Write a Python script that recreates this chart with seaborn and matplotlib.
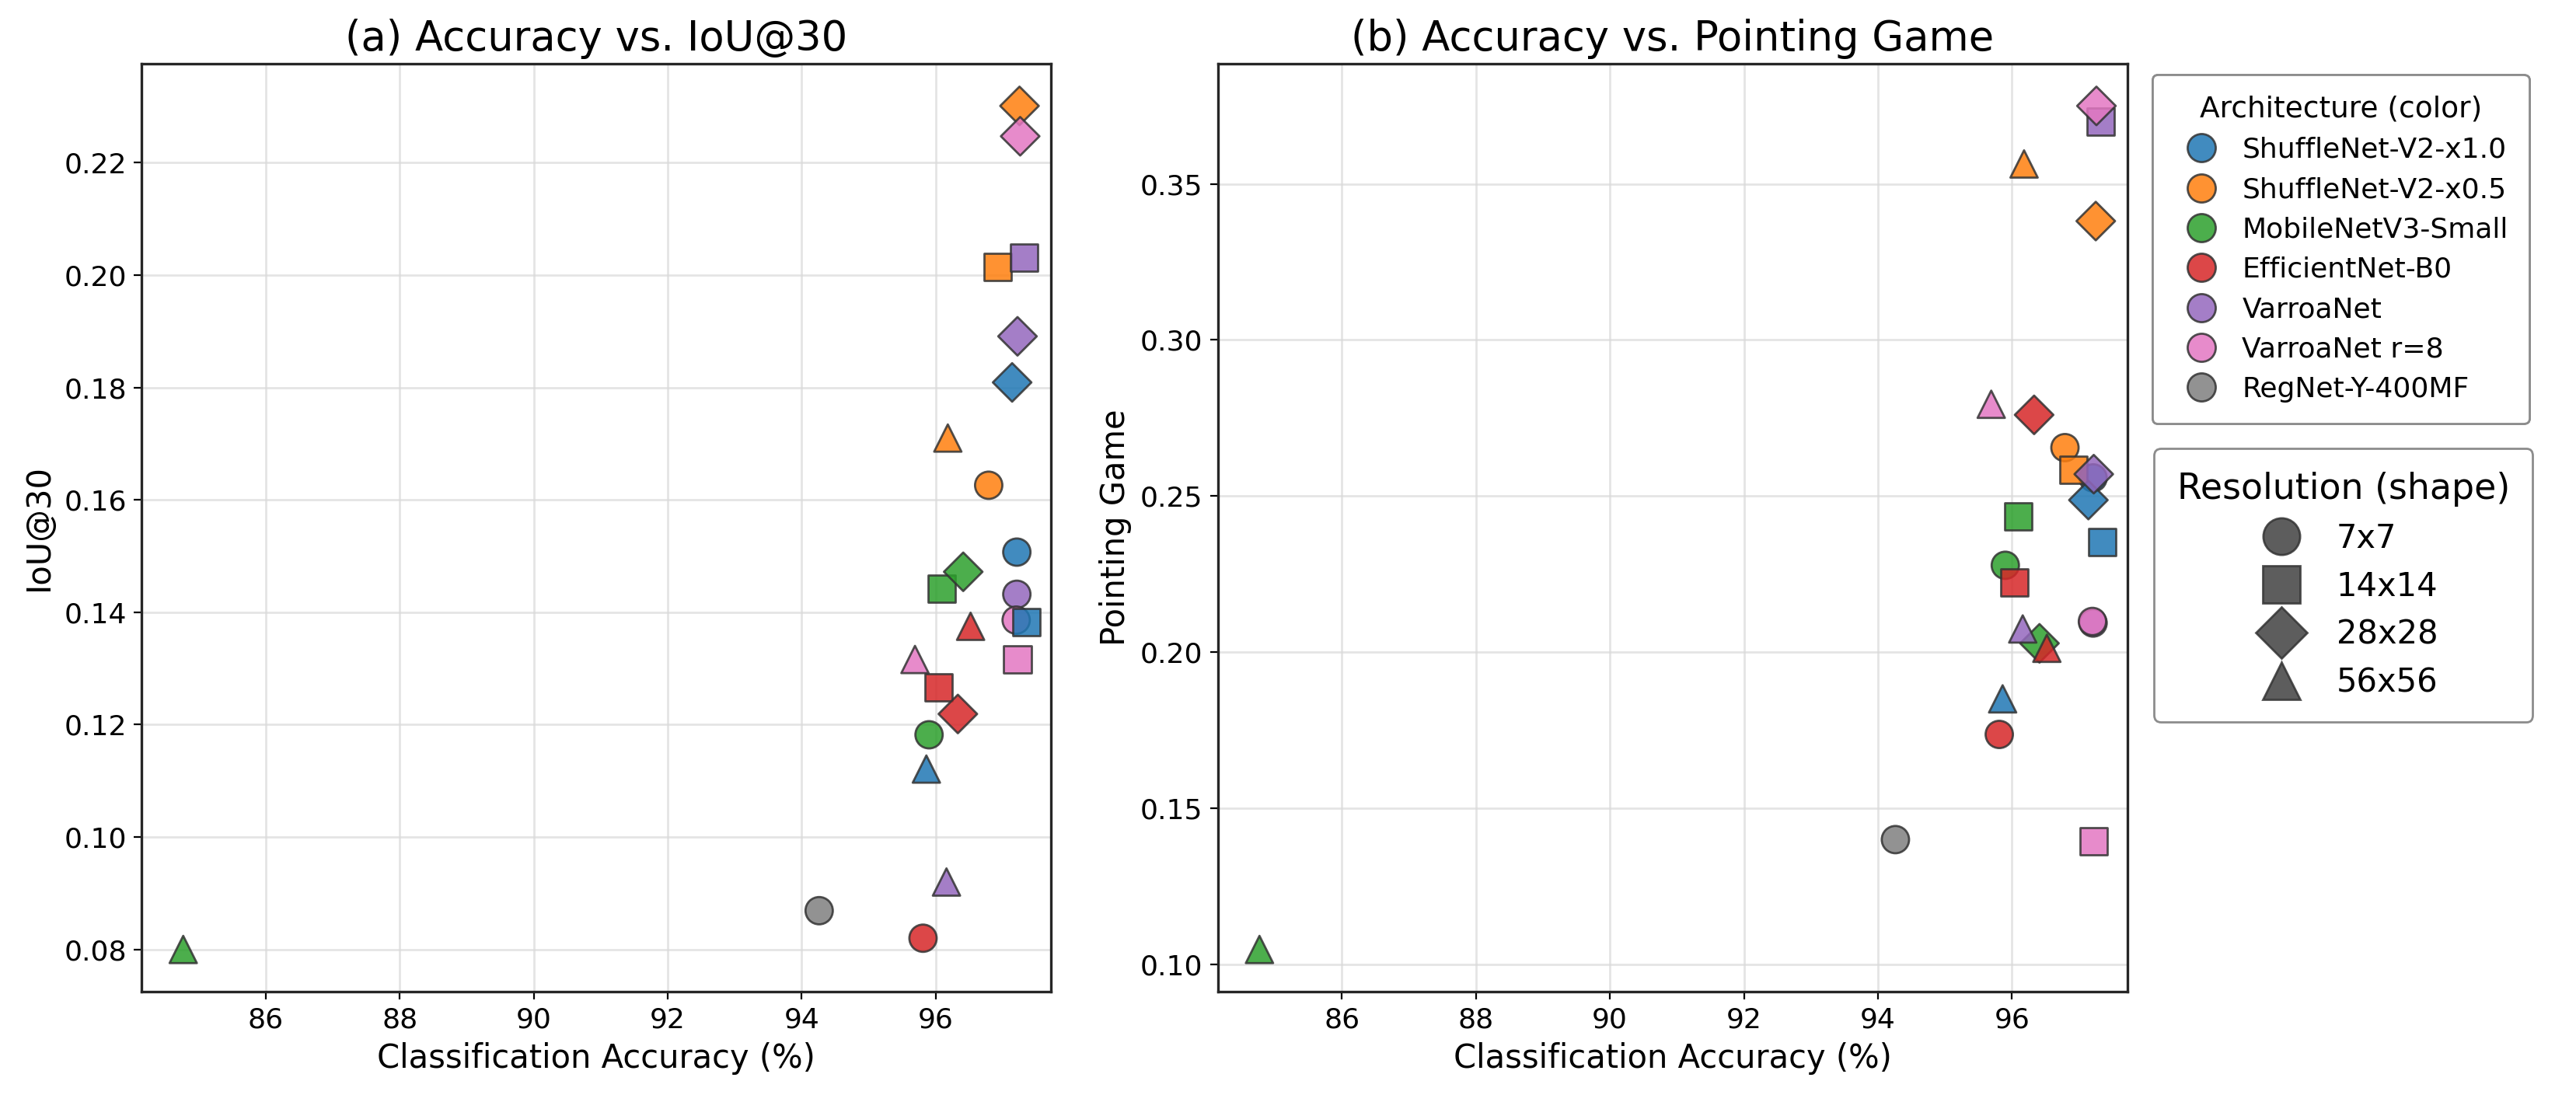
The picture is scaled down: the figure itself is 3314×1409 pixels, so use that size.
import numpy as np
import pandas as pd
import matplotlib
matplotlib.use("Agg")
import matplotlib.pyplot as plt
import seaborn as sns
from matplotlib.lines import Line2D

# --- data ---
archs = ['ShuffleNet-V2-x1.0', 'ShuffleNet-V2-x0.5', 'MobileNetV3-Small',
         'EfficientNet-B0', 'VarroaNet', 'VarroaNet r=8', 'RegNet-Y-400MF']
arch_colors = ['#1f77b4', '#ff7f0e', '#2ca02c', '#d62728',
               '#9467bd', '#e377c2', '#7f7f7f']
resolutions = ['7x7', '14x14', '28x28', '56x56']
res_markers = ['o', 's', 'D', '^']

model = (archs[:7] + archs[:6] + archs[:6] + archs[:6])
resolution = (['7x7'] * 7 + ['14x14'] * 6 + ['28x28'] * 6 + ['56x56'] * 6)

accuracy = [97.21, 96.79, 95.90, 95.81, 97.21, 97.20, 94.26,
            97.35, 96.92, 96.09, 96.04, 97.32, 97.22,
            97.14, 97.25, 96.41, 96.33, 97.22, 97.26,
            95.86, 96.18, 84.77, 96.52, 96.16, 95.69]
iou30 = [0.1507, 0.1626, 0.1182, 0.0820, 0.1432, 0.1386, 0.0869,
         0.1383, 0.2015, 0.1442, 0.1266, 0.2031, 0.1316,
         0.1809, 0.2301, 0.1472, 0.1219, 0.1891, 0.2247,
         0.1121, 0.1710, 0.0800, 0.1375, 0.0920, 0.1316]
pointing = [0.2558, 0.2655, 0.2278, 0.1736, 0.2093, 0.2098, 0.1399,
            0.2353, 0.2584, 0.2434, 0.2223, 0.3700, 0.1394,
            0.2487, 0.3381, 0.2028, 0.2760, 0.2570, 0.3750,
            0.1850, 0.3564, 0.1047, 0.2012, 0.2074, 0.2794]

df = pd.DataFrame({'model': model, 'resolution': resolution,
                   'accuracy': accuracy, 'iou30': iou30, 'pointing': pointing})

# --- figure ---
fig = plt.figure(figsize=(16.57, 7.045), dpi=200)
ax1 = fig.add_axes([0.0550, 0.0944, 0.3530, 0.8474])
ax2 = fig.add_axes([0.4728, 0.0944, 0.3530, 0.8474])

panels = [(ax1, 'iou30', 'IoU@30', '(a) Accuracy vs. IoU@30'),
          (ax2, 'pointing', 'Pointing Game', '(b) Accuracy vs. Pointing Game')]

for ax, col, ylab, title in panels:
    sns.scatterplot(data=df, x='accuracy', y=col, hue='model', hue_order=archs,
                    palette=arch_colors, style='resolution', style_order=resolutions,
                    markers=res_markers, s=160, alpha=0.85, edgecolor='0.2',
                    linewidth=1.0, legend=False, ax=ax, zorder=3)
    ax.set_xlim(84.15, 97.72)
    ax.grid(True, color='0.85', alpha=0.7, linewidth=1.0)
    ax.set_axisbelow(True)
    ax.set_title(title, fontsize=19)
    ax.set_xlabel('Classification Accuracy (%)', fontsize=15)
    ax.set_ylabel(ylab, fontsize=15)
    ax.tick_params(labelsize=13)
    for sp in ax.spines.values():
        sp.set_color('0.15')
        sp.set_linewidth(1.2)

# --- legends ---
arch_handles = [Line2D([], [], marker='o', linestyle='', markersize=13,
                       markerfacecolor=c, markeredgecolor='0.2', alpha=0.85)
                for c in arch_colors]
leg1 = fig.legend(arch_handles, archs, title='Architecture (color)',
                  loc='upper left', bbox_to_anchor=(0.830, 0.945),
                  fontsize=13, title_fontsize=13.5, frameon=True,
                  edgecolor='0.55', framealpha=1, borderpad=0.75,
                  handletextpad=0.45, labelspacing=0.48)

res_handles = [Line2D([], [], marker=m, linestyle='', markersize=17,
                      markerfacecolor='0.25', markeredgecolor='0.2', alpha=0.85)
               for m in res_markers]
leg2 = fig.legend(res_handles, resolutions, title='Resolution (shape)',
                  loc='upper left', bbox_to_anchor=(0.830, 0.605),
                  fontsize=15, title_fontsize=16.5, frameon=True,
                  edgecolor='0.55', framealpha=1, borderpad=0.7,
                  handletextpad=0.7, labelspacing=0.48)
fig.add_artist(leg1)

plt.savefig('out.png', dpi=200)
plt.close()
